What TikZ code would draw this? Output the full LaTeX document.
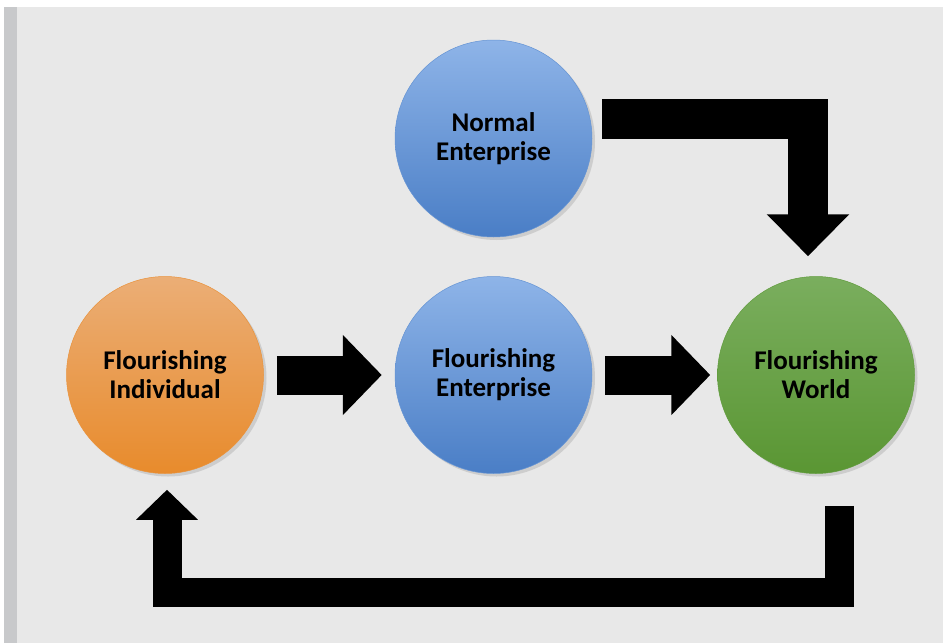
\documentclass[tikz,border=0pt]{standalone}
\usepackage{fontspec}
\setmainfont{Carlito}
\usepackage{xcolor}
\usepackage{tikz}
\usetikzlibrary{arrows.meta,positioning,calc,shadows}
\definecolor{bggray}{HTML}{E8E8E8}
\definecolor{stripgray}{HTML}{C8C9CB}
\definecolor{orangetop}{HTML}{EBAE76}
\definecolor{orangebot}{HTML}{E88B2C}
\definecolor{bluetop}{HTML}{8EB4E8}
\definecolor{bluebot}{HTML}{4A7EC6}
\definecolor{greentop}{HTML}{7AAE5E}
\definecolor{greenbot}{HTML}{5A9633}

\begin{document}
\begin{tikzpicture}[
    x=1pt, y=-1pt,
    font=\fontsize{27}{29}\selectfont\bfseries,
    bubble/.style={circle, minimum size=197pt, inner sep=0pt, align=center, line width=0.5pt,
        drop shadow={shadow xshift=3pt, shadow yshift=-3pt, opacity=0.25}},
    steparrow/.style={line width=39pt, -{Triangle[width=78pt, length=39pt]}},
    bendarrow/.style={line width=40pt, -{Triangle[width=80pt, length=42pt]}},
    returnarrow/.style={line width=29pt, -{Triangle[width=60pt, length=30pt]}}
]
\useasboundingbox (0,0) rectangle (943,643);
\fill[bggray] (4,7) rectangle (943,643);
\fill[stripgray] (4,7) rectangle (17,643);

\node[bubble, top color=orangetop, bottom color=orangebot, draw=orangebot!80!orangetop] (indiv) at (165,375) {Flourishing\\Individual};
\node[bubble, top color=bluetop, bottom color=bluebot, draw=bluebot!60!bluetop, right=131pt of indiv] (fent) {Flourishing\\Enterprise};
\node[bubble, top color=greentop, bottom color=greenbot, draw=greenbot!80!greentop, right=125pt of fent] (world) {Flourishing\\World};
\node[bubble, top color=bluetop, bottom color=bluebot, draw=bluebot!60!bluetop, above=39pt of fent] (normal) {Normal\\Enterprise};

\draw[steparrow] ($(indiv.east)+(13,0)$) -- ($(fent.west)+(-13,0)$);
\draw[steparrow] ($(fent.east)+(13,0)$) -- ($(world.west)+(-7,0)$);
\draw[bendarrow] ($(normal.east)+(10,-20)$) -| ($(world.north)+(-8,-20)$);
\draw[returnarrow] ($(world.south)+(23,32)$) -- ++(0,86.5) -| ($(indiv.south)+(2,16)$);
\end{tikzpicture}
\end{document}
